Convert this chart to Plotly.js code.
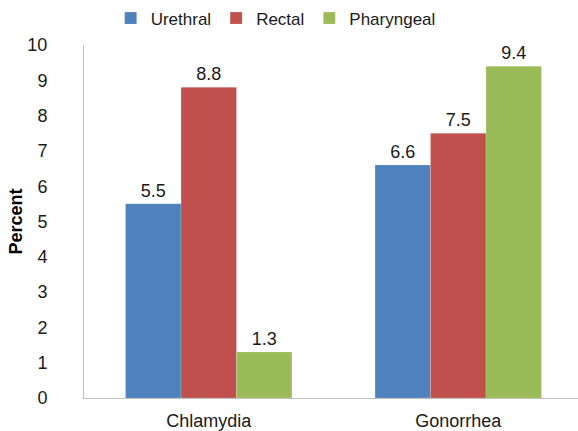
<!DOCTYPE html>
<html><head><meta charset="utf-8">
<script src="https://cdn.plot.ly/plotly-3.0.1.min.js"></script>
<style>html,body{margin:0;padding:0;background:#fff}</style>
</head><body>
<div id="chart" style="width:578px;height:431px"></div>
<script>
const categories = ["Chlamydia", "Gonorrhea"];
const urethral = [5.5, 6.6];
const rectal = [8.8, 7.5];
const pharyngeal = [1.3, 9.4];
const seriesNames = ["Urethral", "Rectal", "Pharyngeal"];
const colors = ["#4F81BD", "#C0504D", "#9BBB59"];
const values = [urethral, rectal, pharyngeal];

const fam = "Liberation Sans, Arial, sans-serif";
const font = {family: fam, size: 18, color: "#1a1a1a"};
const traces = values.map((v, i) => ({
  type: "bar", x: categories, y: v, name: seriesNames[i],
  marker: {color: colors[i], line: {color: "rgba(255,255,255,0.35)", width: 0.5}},
  text: v.map(n => n.toFixed(1)), textposition: "outside", cliponaxis: false,
  textfont: font
}));
const layout = {
  width: 578, height: 431,
  margin: {l: 84, r: 0, t: 43, b: 33},
  barmode: "group", bargap: 0.333, bargroupgap: 0,
  font: font,
  paper_bgcolor: "#fff", plot_bgcolor: "#fff",
  showlegend: true,
  legend: {orientation: "h", x: 0.388, xanchor: "center", y: 1.075, yanchor: "middle",
    font: {family: fam, size: 17, color: "#1a1a1a"}, itemwidth: 30, traceorder: "normal"},
  xaxis: {range: [-0.5, 1.48], showline: true, linecolor: "#bfbfbf", linewidth: 1,
    ticks: "", tickfont: font, ticklabelstandoff: 6, fixedrange: true},
  yaxis: {range: [0, 10], dtick: 1, showgrid: false, zeroline: false,
    showline: true, linecolor: "#bfbfbf", linewidth: 1, ticks: "",
    tickfont: font, ticklabelstandoff: 32,
    title: {text: "<b>Percent</b>", font: {family: fam, size: 18, color: "#000"}, standoff: 0}}
};
Plotly.newPlot("chart", traces, layout, {staticPlot: true});
</script>
</body></html>
